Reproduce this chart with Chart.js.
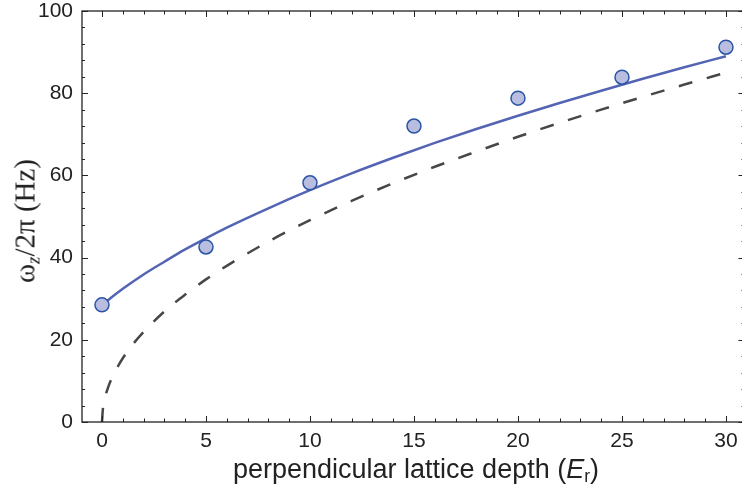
<!DOCTYPE html>
<html>
<head>
<meta charset="utf-8">
<script src="https://cdn.jsdelivr.net/npm/chart.js@4.4.1/dist/chart.umd.min.js"></script>
<style>
  body { margin: 0; background: #fff; overflow: hidden; }
  #wrap { position: relative; width: 742px; height: 498px; }
  #chart { position: absolute; left: 0; top: 0; }
  .title { position: absolute; white-space: nowrap; color: #222; }
  #xTitle { left: 416px; top: 454px; transform: translateX(-50%); font: 27px "Liberation Sans", Arial, sans-serif; }
  #yTitle { left: 25px; top: 221px; transform: translate(-50%, -50%) rotate(-90deg); font: 29px "Liberation Serif", "Times New Roman", serif; }
  sub { font-size: 65%; vertical-align: -0.25em; line-height: 0; }
</style>
</head>
<body>
<div id="wrap">
  <canvas id="chart" width="742" height="498"></canvas>
  <div class="title" id="xTitle">perpendicular lattice depth (<i>E</i><sub>r</sub>)</div>
  <div class="title" id="yTitle">ω<sub><i>z</i></sub>/2π (Hz)</div>
</div>
<script>
// measured trap frequencies
const depth = [0, 5, 10, 15, 20, 25, 30];
const freq = [28.5, 42.6, 58.2, 72.0, 78.8, 83.9, 91.2];

// solid curve
const fitX = [0, 1, 2, 3, 4, 5, 6, 8, 10, 12, 14, 16, 18, 20, 22, 24, 26, 28, 30];
const fitY = [28.5, 32.4, 35.9, 39.0, 42.0, 44.7, 47.3, 52.0, 56.4, 60.5, 64.3, 67.9, 71.3, 74.5, 77.6, 80.6, 83.5, 86.3, 89.0];

// dashed curve
const dashX = [0, 0.05, 0.15, 0.3, 0.5, 0.75, 1, 1.5, 2, 3, 4, 5, 6, 8, 10, 12, 14, 16, 18, 20, 22, 24, 26, 28, 30];
const dashY = [0, 3.5, 6.0, 8.5, 11.0, 13.4, 15.5, 19.0, 21.9, 26.9, 31.0, 34.7, 38.0, 43.9, 49.1, 53.8, 58.1, 62.1, 65.8, 69.4, 72.8, 76.0, 79.1, 82.1, 85.0];

const xTicks = [0, 5, 10, 15, 20, 25, 30];
const yTicks = [0, 20, 40, 60, 80, 100];

const toPts = (xs, ys) => xs.map((x, i) => ({ x: x, y: ys[i] }));

// frame with inward ticks, right edge sits just past the canvas
const frame = {
  id: 'frame',
  afterDraw(chart) {
    const { ctx, chartArea: a, scales } = chart;
    const right = a.right + 2.5;
    ctx.save();
    ctx.strokeStyle = '#222';
    ctx.lineWidth = 1.3;
    ctx.strokeRect(a.left, a.top, right - a.left, a.bottom - a.top);
    ctx.lineWidth = 1;
    ctx.beginPath();
    for (let v = 0; v <= 30; v++) {
      const len = v % 5 === 0 ? 6 : 3.5;
      const px = Math.round(scales.x.getPixelForValue(v)) + 0.5;
      ctx.moveTo(px, a.bottom); ctx.lineTo(px, a.bottom - len);
      ctx.moveTo(px, a.top); ctx.lineTo(px, a.top + len);
    }
    for (let v = 0; v <= 100; v += 4) {
      const len = v % 20 === 0 ? 6 : 3;
      const py = Math.round(scales.y.getPixelForValue(v)) + 0.5;
      ctx.moveTo(a.left, py); ctx.lineTo(a.left + len, py);
      ctx.moveTo(right, py); ctx.lineTo(right - len, py);
    }
    ctx.stroke();
    ctx.restore();
  }
};

const tickFont = { family: '"Liberation Sans", Arial, sans-serif', size: 21 };

new Chart(document.getElementById('chart'), {
  type: 'scatter',
  data: {
    datasets: [
      {
        data: toPts(depth, freq),
        pointRadius: 7,
        pointBackgroundColor: '#b9bde0',
        pointBorderColor: '#2a55a5',
        pointBorderWidth: 1.5,
        showLine: false
      },
      {
        data: toPts(fitX, fitY),
        showLine: true,
        borderColor: '#5464b4',
        borderWidth: 2.5,
        pointRadius: 0,
        cubicInterpolationMode: 'monotone'
      },
      {
        data: toPts(dashX, dashY),
        showLine: true,
        borderColor: '#474747',
        borderWidth: 2.5,
        borderDash: [14, 15],
        pointRadius: 0,
        cubicInterpolationMode: 'monotone'
      }
    ]
  },
  options: {
    responsive: false,
    animation: false,
    layout: { autoPadding: false, padding: { top: 11, right: 0, left: 0, bottom: 0 } },
    plugins: { legend: { display: false }, tooltip: { enabled: false } },
    scales: {
      x: {
        type: 'linear',
        min: -0.96,
        max: 30.77,
        afterBuildTicks: s => { s.ticks = xTicks.map(v => ({ value: v })); },
        afterFit: s => { s.height = 76; s.paddingLeft = 0; s.paddingRight = 0; },
        grid: { display: false, drawTicks: false },
        border: { display: false },
        ticks: { color: '#222', font: tickFont, padding: 7, maxRotation: 0 }
      },
      y: {
        type: 'linear',
        min: 0,
        max: 100,
        afterBuildTicks: s => { s.ticks = yTicks.map(v => ({ value: v })); },
        afterFit: s => { s.width = 82; s.paddingTop = 0; s.paddingBottom = 0; },
        grid: { display: false, drawTicks: false },
        border: { display: false },
        ticks: { color: '#222', font: tickFont, padding: 9 }
      }
    }
  },
  plugins: [frame]
});
</script>
</body>
</html>
